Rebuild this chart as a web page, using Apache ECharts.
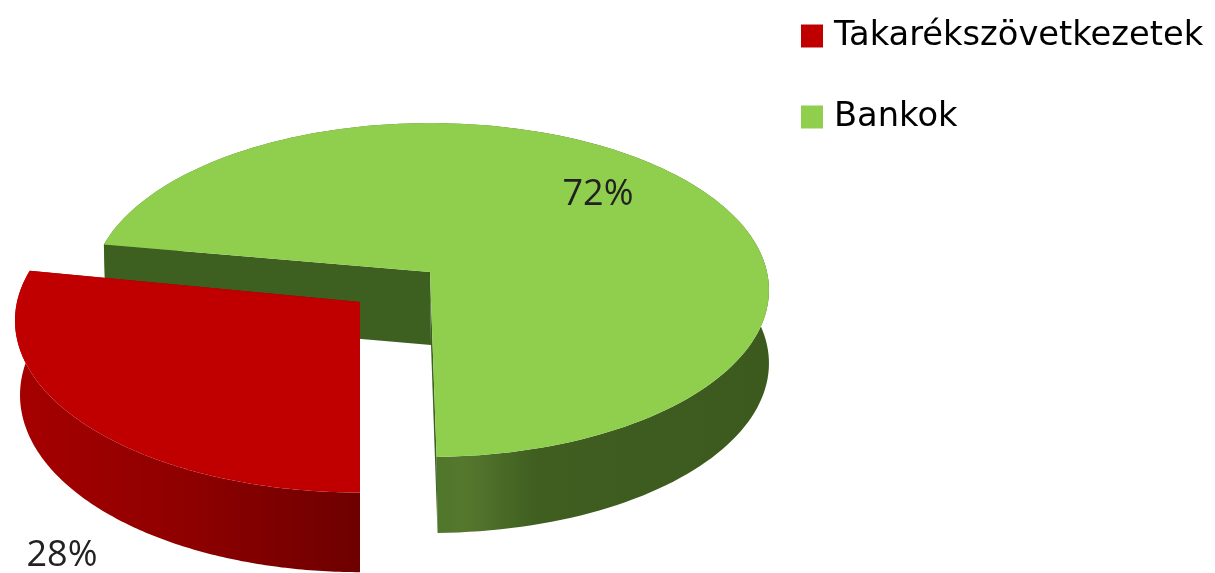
<!DOCTYPE html>
<html>
<head>
<meta charset="utf-8">
<style>html,body{margin:0;padding:0;background:#fff}#c{width:1215px;height:573px}</style>
<script src="https://cdn.jsdelivr.net/npm/echarts@6/dist/echarts.min.js"></script>
</head>
<body>
<div id="c"></div>
<script>
var categories = ['Bankok', 'Takarékszövetkezetek'];
var values = [72, 28];
var legendOrder = ['Takarékszövetkezetek', 'Bankok'];
var topColors = ['#90CF4E', '#C00000'];

var k = 0.1078;
var looks = [
  { rot: 179, dir: -1, top: [430, 272, 337, 165], bottom: [431, 345, 336, 167.7],
    wall: '#3D5F20', label: [598, 195], gx: [437, 769],
    stops: [[0, '#4F762A'], [0.08, '#55782E'], [0.3, '#3F5E20'], [1, '#3C5A1E']] },
  { rot: 180, dir: 1, top: [360, 302, 343, 170], bottom: [360, 376, 338, 175],
    wall: '#8A0000', label: [62, 556], gx: [15, 360],
    stops: [[0, '#A60000'], [0.5, '#8E0000'], [1, '#6E0000']] }
];
var total = values.reduce(function (a, b) { return a + b; }, 0);

function project(f, deg, r) {
  var t = deg * Math.PI / 180, X = r * Math.sin(t), Y = r * Math.cos(t), w = 1 + k * Y;
  return [f[0] + f[2] * X / w, f[1] - f[3] * Y / w];
}
function arc(f, a, b) {
  var pts = [], n = 160;
  for (var i = 0; i <= n; i++) pts.push(project(f, a + (b - a) * i / n, 1));
  return pts;
}
function poly(points, fill) {
  return { type: 'polygon', shape: { points: points }, style: { fill: fill } };
}
function renderSlice(params, api) {
  var i = params.seriesIndex, L = looks[i];
  var span = api.value(0) / total * 360;
  var a = L.rot, b = L.rot + L.dir * span;
  var topArc = arc(L.top, a, b), lowArc = arc(L.bottom, a, b);
  var apexT = [L.top[0], L.top[1]], apexB = [L.bottom[0], L.bottom[1]];
  var sideFill = new echarts.graphic.LinearGradient(L.gx[0], 0, L.gx[1], 0,
    L.stops.map(function (s) { return { offset: s[0], color: s[1] }; }), true);
  var kids = [];
  kids.push(poly(topArc.concat(lowArc.slice().reverse()), sideFill));
  kids.push(poly([apexT, topArc[topArc.length - 1], lowArc[lowArc.length - 1], apexB], L.wall));
  kids.push(poly([apexT, topArc[0], lowArc[0], apexB], L.wall));
  kids.push(poly([apexT].concat(topArc), topColors[i]));
  kids.push({ type: 'text', z2: 10, style: {
    x: L.label[0], y: L.label[1], text: api.value(0) + '%', align: 'center', verticalAlign: 'middle',
    fill: '#222', font: '400 36px "Open Sans"' } });
  return { type: 'group', children: kids };
}

var chart = echarts.init(document.getElementById('c'), null, { renderer: 'canvas' });
chart.setOption({
  animation: false,
  backgroundColor: '#fff',
  legend: {
    orient: 'vertical', left: 796, top: 14, itemWidth: 22, itemHeight: 23, itemGap: 47,
    icon: 'rect', data: legendOrder,
    textStyle: { fontFamily: 'DejaVu Sans', fontSize: 33.7, color: '#000', padding: [0, 0, 0, 6] }
  },
  series: categories.map(function (name, i) {
    return {
      type: 'custom', name: name, coordinateSystem: 'none', renderItem: renderSlice,
      itemStyle: { color: topColors[i] }, data: [[values[i]]], silent: true
    };
  })
});
</script>
</body>
</html>
